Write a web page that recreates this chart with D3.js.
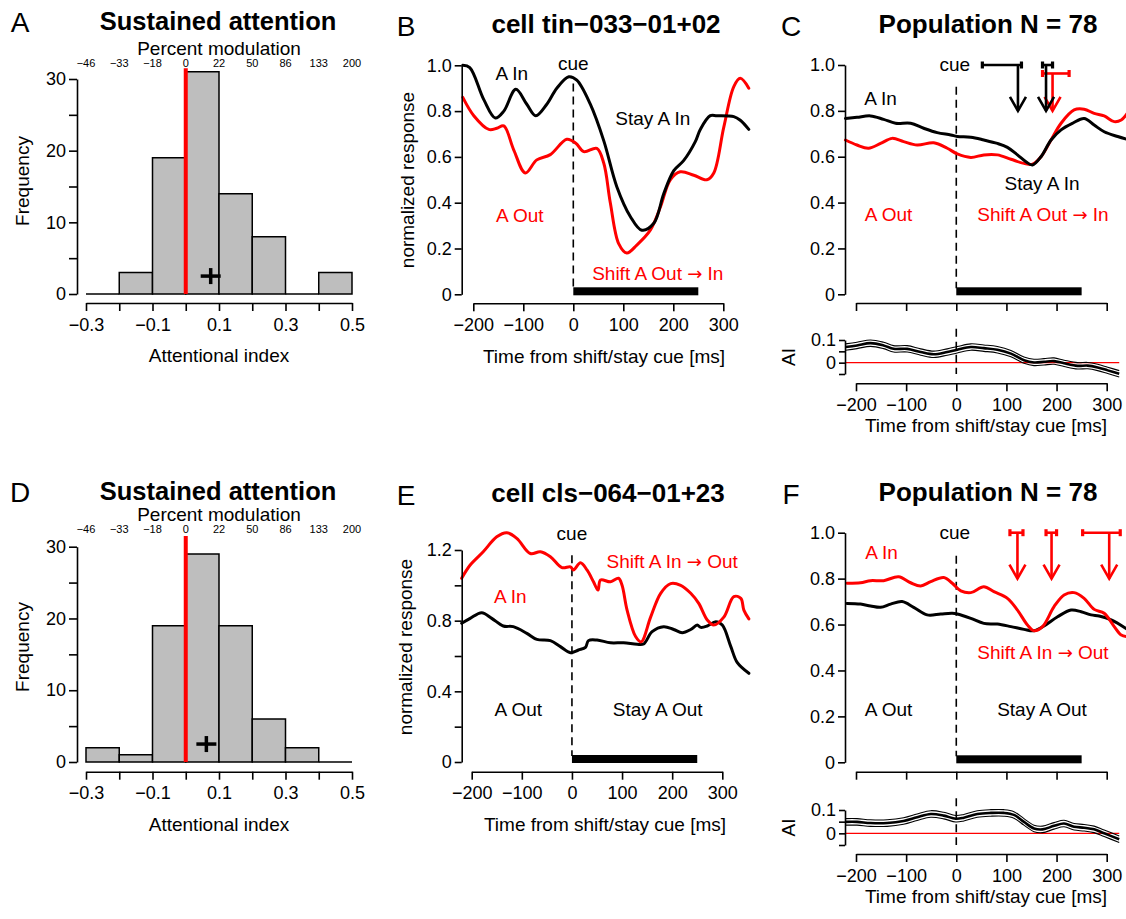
<!DOCTYPE html>
<html>
<head>
<meta charset="utf-8">
<script src="https://cdn.jsdelivr.net/npm/d3@7"></script>
<style>
  body { margin: 0; background: #fff; }
  svg { display: block; }
</style>
</head>
<body>
<svg id="fig" width="1126" height="919"></svg>
<script>
// ---- data ----
const binEdges = [-0.3, -0.2, -0.1, 0, 0.1, 0.2, 0.3, 0.4, 0.5];
const pctLabels = ["−46", "−33", "−18", "0", "22", "50", "86", "133", "200"];
const countsA = [0, 3, 19, 31, 14, 8, 0, 3];
const countsD = [2, 1, 19, 29, 19, 6, 2, 0];
const meanA = 0.075;
const meanD = 0.062;
const timeTicks = [-200, -100, 0, 100, 200, 300];

// panel B, single cell (ms, normalized response)
const bBlack = [[-221,1.0],[-207,0.99],[-179,0.85],[-156,0.77],[-139,0.80],[-115,0.895],[-93,0.83],[-75,0.78],
  [-53,0.83],[-33,0.90],[-9,0.95],[7,0.935],[34,0.83],[61,0.67],[87,0.47],[114,0.34],[137,0.28],[161,0.31],
  [181,0.44],[201,0.54],[221,0.585],[244,0.667],[254,0.72],[274,0.78],[287,0.78],[321,0.776],[334,0.76],[351,0.72]];
const bRed = [[-221,0.86],[-199,0.78],[-169,0.72],[-153,0.725],[-139,0.735],[-119,0.63],[-96,0.53],[-73,0.587],
  [-46,0.61],[-13,0.677],[5,0.66],[21,0.623],[47,0.637],[61,0.572],[74,0.40],[91,0.22],[107,0.18],[127,0.215],
  [154,0.28],[174,0.38],[194,0.50],[214,0.535],[241,0.52],[267,0.50],[281,0.53],[301,0.73],[321,0.907],[334,0.943],[351,0.90]];

// panel C, population
const cBlack = [[-221,0.767],[-198,0.772],[-171,0.778],[-145,0.763],[-121,0.746],[-91,0.746],[-65,0.724],[-38,0.705],
  [-11,0.695],[2,0.688],[29,0.685],[55,0.673],[82,0.658],[102,0.641],[122,0.608],[139,0.578],[152,0.564],[169,0.60],
  [189,0.673],[209,0.717],[232,0.746],[255,0.767],[275,0.738],[295,0.709],[322,0.688],[341,0.676]];
const cRed = [[-221,0.673],[-198,0.651],[-175,0.637],[-151,0.658],[-128,0.68],[-105,0.666],[-78,0.651],[-45,0.661],
  [-18,0.637],[2,0.612],[29,0.597],[55,0.608],[82,0.608],[109,0.589],[135,0.571],[152,0.567],[169,0.60],[189,0.673],
  [209,0.746],[235,0.804],[255,0.807],[275,0.789],[295,0.778],[315,0.753],[329,0.76],[341,0.789]];
const cAI = [[-221,0.069],[-198,0.076],[-171,0.086],[-145,0.076],[-125,0.061],[-98,0.061],[-71,0.047],[-45,0.037],
  [-18,0.047],[2,0.057],[29,0.069],[55,0.064],[82,0.057],[109,0.04],[135,0.011],[155,0.001],[175,0.004],[195,0.007],
  [215,-0.003],[242,-0.014],[262,-0.013],[282,-0.021],[302,-0.034],[325,-0.049]];
const cAIse = 0.014;
// latency estimates: [low, high, mean] of the CI, colour
const cArrows = [[172, 225, 192, "red"], [52, 130, 123, "black"], [172, 192, 179, "black"]];

// panel E, single cell
const eRed = [[-220,1.04],[-203,1.115],[-177,1.19],[-150,1.275],[-130,1.298],[-110,1.266],[-83,1.18],[-63,1.19],
  [-43,1.162],[-20,1.10],[-3,1.105],[3,1.087],[17,1.128],[30,1.087],[43,1.02],[52,0.973],[57,1.03],[77,1.02],
  [93,1.04],[100,1.0],[110,0.86],[127,0.71],[138,0.68],[157,0.82],[177,0.955],[197,1.01],[217,1.0],[237,0.955],
  [253,0.898],[270,0.804],[283,0.775],[303,0.82],[323,0.936],[337,0.926],[343,0.86],[353,0.81]];
const eBlack = [[-220,0.785],[-203,0.813],[-180,0.845],[-160,0.813],[-137,0.77],[-117,0.766],[-90,0.728],[-70,0.694],
  [-43,0.687],[-23,0.653],[-3,0.619],[13,0.634],[27,0.649],[33,0.687],[50,0.69],[77,0.675],[103,0.675],[130,0.666],
  [143,0.668],[160,0.738],[183,0.766],[203,0.75],[220,0.732],[237,0.75],[250,0.775],[257,0.762],[270,0.77],
  [287,0.794],[300,0.775],[317,0.653],[330,0.562],[353,0.502]];

// panel F, population
const fRed = [[-218,0.78],[-191,0.782],[-171,0.791],[-145,0.791],[-115,0.808],[-91,0.782],[-71,0.768],[-51,0.787],
  [-25,0.805],[-8,0.78],[9,0.747],[29,0.739],[55,0.765],[75,0.743],[102,0.714],[122,0.663],[142,0.598],[155,0.573],
  [172,0.591],[195,0.678],[215,0.729],[235,0.739],[255,0.714],[275,0.666],[295,0.649],[315,0.591],[329,0.554],[341,0.547]];
const fBlack = [[-218,0.692],[-191,0.689],[-171,0.681],[-151,0.675],[-131,0.689],[-108,0.70],[-85,0.675],[-58,0.642],
  [-31,0.646],[-8,0.649],[2,0.646],[29,0.627],[55,0.605],[82,0.602],[109,0.591],[135,0.579],[155,0.573],[175,0.594],
  [202,0.634],[229,0.663],[249,0.656],[269,0.642],[285,0.637],[309,0.62],[341,0.579]];
const fAI = [[-221,0.049],[-198,0.049],[-171,0.044],[-138,0.044],[-105,0.053],[-78,0.069],[-51,0.083],[-25,0.076],
  [-1,0.0625],[15,0.067],[42,0.083],[69,0.0875],[95,0.0875],[115,0.079],[135,0.049],[155,0.021],[172,0.017],
  [195,0.032],[215,0.042],[235,0.028],[255,0.024],[275,0.017],[295,0.0],[325,-0.025]];
const fAIse = 0.014;
const fArrows = [[107, 133, 122, "red"], [179, 200, 190, "red"], [252, 327, 305, "red"]];

// ---- drawing ----
const FONT = '"Liberation Sans", Arial, Helvetica, sans-serif';
const RED = "#ff0000";
const svg = d3.select("#fig");

function txt(x, y, s, o = {}) {
  const t = svg.append("text")
    .attr("x", x).attr("y", y)
    .attr("font-family", FONT)
    .attr("font-size", o.size || 19)
    .attr("font-weight", o.bold ? "bold" : "normal")
    .attr("fill", o.color || "#000")
    .attr("text-anchor", o.anchor || "middle")
    .attr("dominant-baseline", "central");
  // the arrow glyph is tiny in Liberation, take it from DejaVu
  s.split(/(→)/).forEach(part => {
    if (!part) return;
    const ts = t.append("tspan").text(part);
    if (part === "→") ts.attr("font-family", "DejaVu Sans").attr("font-size", (o.size || 19) * 0.95);
  });
  if (o.rotate) t.attr("transform", `rotate(-90,${x},${y})`);
  return t;
}

function styleAxis(g, size) {
  g.attr("font-size", size).attr("font-family", FONT);
  g.selectAll(".domain").attr("stroke-width", 1.6);
  g.selectAll(".tick line").attr("stroke-width", 1.6);
  g.selectAll(".tick text").attr("fill", "#000");
}

const fmt1 = d => (d === 0 ? "0" : d3.format(".1f")(d));

function drawHist(o) {
  const x = d3.scaleLinear().domain([-0.3, 0.5]).range([86, 352]);
  const y = d3.scaleLinear().domain([0, 30]).range(o.yr);
  const g = svg.append("g");

  o.counts.forEach((c, i) => {
    const p = d3.path();
    p.moveTo(x(binEdges[i]), y(0));
    p.lineTo(x(binEdges[i]), y(c));
    p.lineTo(x(binEdges[i + 1]), y(c));
    p.lineTo(x(binEdges[i + 1]), y(0));
    if (c > 0) p.closePath();
    g.append("path").attr("d", p.toString())
      .attr("fill", c > 0 ? "#bebebe" : "none")
      .attr("stroke", "#000").attr("stroke-width", 1.5);
  });

  g.append("line")
    .attr("x1", x(0)).attr("x2", x(0))
    .attr("y1", y(0)).attr("y2", y(31.5))
    .attr("stroke", RED).attr("stroke-width", 4);

  // mean marker
  g.append("line").attr("x1", x(o.mean) - 10).attr("x2", x(o.mean) + 10)
    .attr("y1", y(2.5)).attr("y2", y(2.5)).attr("stroke", "#000").attr("stroke-width", 3.5);
  g.append("line").attr("x1", x(o.mean)).attr("x2", x(o.mean))
    .attr("y1", y(2.5) - 8).attr("y2", y(2.5) + 8).attr("stroke", "#000").attr("stroke-width", 3.5);

  const xa = g.append("g").attr("transform", `translate(0,${o.xAxisY})`)
    .call(d3.axisBottom(x).tickValues(binEdges)
      .tickFormat(d => (Math.round(d * 10) % 2 ? d3.format(".1f")(d) : ""))
      .tickSize(8).tickPadding(7).tickSizeOuter(0));
  styleAxis(xa, 18);

  const ya = g.append("g").attr("transform", `translate(77,0)`)
    .call(d3.axisLeft(y).tickValues(d3.range(0, 31, 5))
      .tickFormat(d => (d % 10 ? "" : d)).tickSize(8).tickPadding(3).tickSizeOuter(0));
  styleAxis(ya, 18);

  binEdges.forEach((b, i) => txt(x(b), o.pctY, pctLabels[i], { size: 11 }));
  txt(219, o.pmY, "Percent modulation", { size: 19 });
  txt(218, o.titleY, "Sustained attention", { size: 25.5, bold: true });
  txt(20, o.titleY + 1, o.letter, { size: 28 });
  txt(219, o.xAxisY + 52, "Attentional index", { size: 19 });
  txt(22, o.freqY, "Frequency", { size: 19, rotate: true });
}

function drawTime(o) {
  const x = d3.scaleLinear().domain([-200, 300]).range(o.xr);
  const y = d3.scaleLinear().domain(o.yDomain).range(o.yr);
  const g = svg.append("g");

  const line = d3.line().x(d => x(d[0])).y(d => y(d[1])).curve(d3.curveCatmullRom.alpha(0.5));

  // cue line
  g.append("line").attr("x1", x(0)).attr("x2", x(0))
    .attr("y1", y(o.cueTop)).attr("y2", y(0) - 6)
    .attr("stroke", "#000").attr("stroke-width", 1.6).attr("stroke-dasharray", "8,5");
  // analysis window
  g.append("rect").attr("x", x(0)).attr("width", x(250) - x(0))
    .attr("y", y(0) - 7).attr("height", 8).attr("fill", "#000");

  o.curves.forEach(c => {
    g.append("path").datum(c.data).attr("d", line)
      .attr("fill", "none").attr("stroke", c.color).attr("stroke-width", 3)
      .attr("stroke-linejoin", "round").attr("stroke-linecap", "round");
  });

  (o.arrows || []).forEach(a => {
    const col = a[3] === "red" ? RED : "#000";
    const yb = y(a[3] === "red" && o.redBar ? o.redBar : 1.0);
    const yt = y(0.80);
    const ag = g.append("g").attr("stroke", col).attr("stroke-width", 2.6).attr("fill", "none");
    ag.append("line").attr("x1", x(a[0])).attr("x2", x(a[1])).attr("y1", yb).attr("y2", yb);
    [a[0], a[1]].forEach(v => ag.append("line").attr("x1", x(v)).attr("x2", x(v))
      .attr("y1", yb - 3.5).attr("y2", yb + 3.5).attr("stroke-width", 3.2));
    ag.append("line").attr("x1", x(a[2])).attr("x2", x(a[2])).attr("y1", yb).attr("y2", yt);
    ag.append("path").attr("d", `M${x(a[2]) - 8},${yt - 14}L${x(a[2])},${yt}L${x(a[2]) + 8},${yt - 14}`);
  });

  o.labels.forEach(l => txt(x(l[1]), y(l[2]), l[0], { color: l[3] === "red" ? RED : "#000" }));

  const xa = g.append("g").attr("transform", `translate(0,${o.xAxisY})`)
    .call(d3.axisBottom(x).tickValues(timeTicks)
      .tickFormat(o.xLabels ? d3.format("d") : () => "")
      .tickSize(8).tickPadding(7).tickSizeOuter(0));
  styleAxis(xa, 18);

  const ya = g.append("g").attr("transform", `translate(${o.yAxisX},0)`)
    .call(d3.axisLeft(y).tickValues(o.yTicks).tickFormat(o.yFormat).tickSize(7).tickPadding(3).tickSizeOuter(0));
  styleAxis(ya, 18);

  txt(o.titleX, o.titleY, o.title, { size: 26, bold: true });
  txt(o.letterX, o.titleY + 2, o.letter, { size: 28 });
  if (o.yTitle) txt(o.yTitle[0], o.yTitle[1], "normalized response", { size: 19, rotate: true });
  if (o.xTitleY) txt(o.xTitleX, o.xTitleY, "Time from shift/stay cue [ms]", { size: 19 });
  return x;
}

function drawAI(o) {
  const x = o.x;
  const y = d3.scaleLinear().domain([-0.05, 0.1]).range(o.yr);
  const g = svg.append("g");
  const ext = d3.extent(o.data, d => d[0]);

  g.append("line").attr("x1", x(ext[0])).attr("x2", x(ext[1]))
    .attr("y1", y(0)).attr("y2", y(0)).attr("stroke", RED).attr("stroke-width", 1.2);
  g.append("line").attr("x1", x(0)).attr("x2", x(0))
    .attr("y1", y(0.15)).attr("y2", y(-0.05))
    .attr("stroke", "#000").attr("stroke-width", 1.6).attr("stroke-dasharray", "8,5");

  const line = d3.line().x(d => x(d[0])).y(d => y(d[1])).curve(d3.curveCatmullRom.alpha(0.5));
  [o.se, -o.se].forEach(s => {
    g.append("path").datum(o.data.map(d => [d[0], d[1] + s])).attr("d", line)
      .attr("fill", "none").attr("stroke", "#000").attr("stroke-width", 1.1);
  });
  g.append("path").datum(o.data).attr("d", line)
    .attr("fill", "none").attr("stroke", "#000").attr("stroke-width", 2.6);

  const xa = g.append("g").attr("transform", `translate(0,${o.xAxisY})`)
    .call(d3.axisBottom(x).tickValues(timeTicks).tickFormat(d3.format("d"))
      .tickSize(8).tickPadding(7).tickSizeOuter(0));
  styleAxis(xa, 18);
  const ya = g.append("g").attr("transform", `translate(${o.yAxisX},0)`)
    .call(d3.axisLeft(y).tickValues([-0.05, 0, 0.05, 0.1])
      .tickFormat(d => (d === 0 ? "0" : d === 0.1 ? "0.1" : "")).tickSize(6).tickPadding(3).tickSizeOuter(0));
  styleAxis(ya, 18);
  txt(788, y(0.025), "AI", { size: 19, rotate: true });
  txt(986, o.xAxisY + 42, "Time from shift/stay cue [ms]", { size: 19 });
}

// A and D
drawHist({ counts: countsA, mean: meanA, letter: "A", yr: [294, 79], xAxisY: 303,
  pctY: 63, pmY: 48, titleY: 21, freqY: 181 });
drawHist({ counts: countsD, mean: meanD, letter: "D", yr: [762, 546.7], xAxisY: 771.7,
  pctY: 529, pmY: 514, titleY: 491, freqY: 647 });

const tickFmtB = d => fmt1(d);

// B
drawTime({ xr: [473.3, 723.3], yDomain: [0, 1], yr: [294.3, 65.3], yAxisX: 461.7, xAxisY: 303.3,
  yTicks: [0, 0.2, 0.4, 0.6, 0.8, 1.0], yFormat: tickFmtB, xLabels: true, cueTop: 0.92,
  curves: [{ data: bRed, color: RED }, { data: bBlack, color: "#000" }],
  labels: [["cue", 0, 1.01], ["A In", -123, 0.967], ["Stay A In", 159, 0.77],
    ["A Out", -107, 0.346, "red"], ["Shift A Out → In", 169, 0.093, "red"]],
  title: "cell tin−033−01+02", titleX: 606, titleY: 24, letter: "B", letterX: 406,
  yTitle: [407, 180], xTitleX: 604, xTitleY: 356 });

// C
const xC = drawTime({ xr: [856, 1106.7], yDomain: [0, 1], yr: [294.3, 65], yAxisX: 845, xAxisY: 303,
  yTicks: [0, 0.2, 0.4, 0.6, 0.8, 1.0], yFormat: tickFmtB, xLabels: false, cueTop: 0.905,
  curves: [{ data: cRed, color: RED }, { data: cBlack, color: "#000" }],
  arrows: cArrows, redBar: 0.963,
  labels: [["cue", -3, 1.003], ["A In", -151, 0.856], ["Stay A In", 171, 0.485],
    ["A Out", -135, 0.35, "red"], ["Shift A Out → In", 173, 0.35, "red"]],
  title: "Population N = 78", titleX: 988, titleY: 24, letter: "C", letterX: 791 });
drawAI({ x: xC, data: cAI, se: cAIse, yr: [374, 340], yAxisX: 845, xAxisY: 383.3 });

// E
drawTime({ xr: [471.7, 722.3], yDomain: [0, 1.2], yr: [762, 550], yAxisX: 461.7, xAxisY: 771.7,
  yTicks: [0, 0.2, 0.4, 0.6, 0.8, 1.0, 1.2], yFormat: d => (Math.round(d * 10) % 4 ? "" : fmt1(d)),
  xLabels: true, cueTop: 1.17,
  curves: [{ data: eBlack, color: "#000" }, { data: eRed, color: RED }],
  labels: [["cue", 0, 1.296], ["Shift A In → Out", 200, 1.139, "red"], ["A In", -123, 0.94, "red"],
    ["A Out", -107, 0.30], ["Stay A Out", 171, 0.30]],
  title: "cell cls−064−01+23", titleX: 608, titleY: 493, letter: "E", letterX: 406,
  yTitle: [405, 647], xTitleX: 605, xTitleY: 824 });

// F
const xF = drawTime({ xr: [856, 1106.7], yDomain: [0, 1], yr: [762.3, 532.7], yAxisX: 845, xAxisY: 771.7,
  yTicks: [0, 0.2, 0.4, 0.6, 0.8, 1.0], yFormat: tickFmtB, xLabels: false, cueTop: 0.9,
  curves: [{ data: fBlack, color: "#000" }, { data: fRed, color: RED }],
  arrows: fArrows,
  labels: [["cue", -3, 1.003], ["A In", -149, 0.916, "red"], ["Shift A In → Out", 173, 0.48, "red"],
    ["A Out", -135, 0.232], ["Stay A Out", 171, 0.232]],
  title: "Population N = 78", titleX: 988, titleY: 492, letter: "F", letterX: 791 });
drawAI({ x: xF, data: fAI, se: fAIse, yr: [845, 810], yAxisX: 845, xAxisY: 854 });
</script>
</body>
</html>
